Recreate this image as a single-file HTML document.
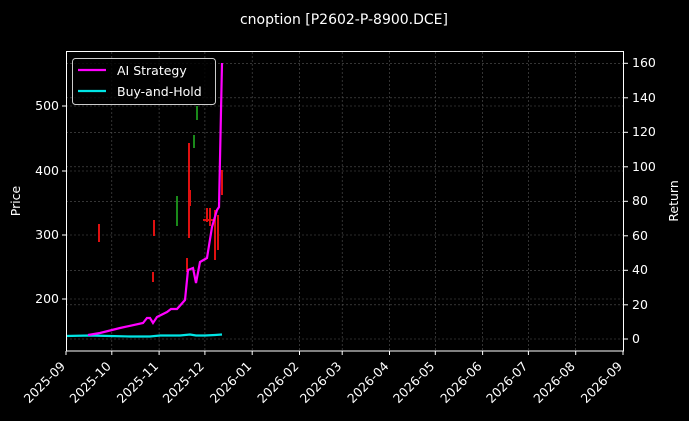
<!DOCTYPE html>
<html><head><meta charset="utf-8"><style>
html,body{margin:0;padding:0;background:#000;}
svg{display:block;font-family:"DejaVu Sans","Liberation Sans",sans-serif;}
</style></head><body>
<svg width="689" height="421" viewBox="0 0 689 421" xmlns="http://www.w3.org/2000/svg">
<rect width="689" height="421" fill="#000"/>
<text x="344" y="24" fill="#fff" font-size="14" text-anchor="middle">cnoption [P2602-P-8900.DCE]</text>
<g stroke="#555" stroke-width="0.6" stroke-dasharray="2,2">
<line x1="111.8" y1="52" x2="111.8" y2="351"/><line x1="159.1" y1="52" x2="159.1" y2="351"/><line x1="204.9" y1="52" x2="204.9" y2="351"/><line x1="252.2" y1="52" x2="252.2" y2="351"/><line x1="299.5" y1="52" x2="299.5" y2="351"/><line x1="342.2" y1="52" x2="342.2" y2="351"/><line x1="389.5" y1="52" x2="389.5" y2="351"/><line x1="435.3" y1="52" x2="435.3" y2="351"/><line x1="482.6" y1="52" x2="482.6" y2="351"/><line x1="528.4" y1="52" x2="528.4" y2="351"/><line x1="575.7" y1="52" x2="575.7" y2="351"/>
<line x1="66" y1="299" x2="624" y2="299"/><line x1="66" y1="235" x2="624" y2="235"/><line x1="66" y1="171" x2="624" y2="171"/><line x1="66" y1="106" x2="624" y2="106"/>
<line x1="66" y1="339" x2="624" y2="339"/><line x1="66" y1="304.8" x2="624" y2="304.8"/><line x1="66" y1="270.3" x2="624" y2="270.3"/><line x1="66" y1="201.3" x2="624" y2="201.3"/><line x1="66" y1="166.8" x2="624" y2="166.8"/><line x1="66" y1="132.3" x2="624" y2="132.3"/><line x1="66" y1="97.8" x2="624" y2="97.8"/><line x1="66" y1="63.3" x2="624" y2="63.3"/>
</g>
<g stroke-width="2">
<line x1="99" y1="224" x2="99" y2="242" stroke="#e01010"/>
<line x1="154" y1="220" x2="154" y2="236" stroke="#e01010"/>
<line x1="153" y1="272" x2="153" y2="282" stroke="#e01010"/>
<line x1="177" y1="196" x2="177" y2="226" stroke="#1a8a1a"/>
<line x1="187" y1="258" x2="187" y2="272" stroke="#e01010"/>
<line x1="189" y1="143" x2="189" y2="238" stroke="#e01010"/>
<line x1="190" y1="190" x2="190" y2="206" stroke="#e01010"/>
<line x1="194" y1="135" x2="194" y2="148" stroke="#1a8a1a"/>
<line x1="197" y1="106" x2="197" y2="120" stroke="#1a8a1a"/>
<line x1="207" y1="208" x2="207" y2="222" stroke="#e01010"/>
<line x1="210" y1="208" x2="210" y2="226" stroke="#e01010"/>
<line x1="215" y1="210" x2="215" y2="260" stroke="#e01010"/>
<line x1="218" y1="215" x2="218" y2="250" stroke="#e01010"/>
<line x1="222" y1="170" x2="222" y2="195" stroke="#e01010"/>
<line x1="203" y1="220" x2="215" y2="220" stroke="#e01010"/>
</g>
<polyline fill="none" stroke="#00e5e5" stroke-width="2.2" points="66,336 90,335.5 110,336 130,336.5 150,336.5 160,335.5 180,335.5 190,334.5 196,335.5 205,335.5 215,335 222,334.5"/>
<polyline fill="none" stroke="#ff00ff" stroke-width="2.2" points="88,335 100,333 120,328 143,323 147,318 150,318 153,323 157,317 167,312 171,309 177,309 185,300 188,270 193,268 196,283 200,262 207,258 212,227 217,210 219,207 222,63"/>
<rect x="66.5" y="51.5" width="557" height="299.5" fill="none" stroke="#fff" stroke-width="1"/>
<g stroke="#fff" stroke-width="1">
<line x1="62" y1="299" x2="66" y2="299"/><line x1="62" y1="235" x2="66" y2="235"/><line x1="62" y1="171" x2="66" y2="171"/><line x1="62" y1="106" x2="66" y2="106"/>
<line x1="624" y1="339" x2="628" y2="339"/><line x1="624" y1="304.8" x2="628" y2="304.8"/><line x1="624" y1="270.3" x2="628" y2="270.3"/><line x1="624" y1="235.8" x2="628" y2="235.8"/><line x1="624" y1="201.3" x2="628" y2="201.3"/><line x1="624" y1="166.8" x2="628" y2="166.8"/><line x1="624" y1="132.3" x2="628" y2="132.3"/><line x1="624" y1="97.8" x2="628" y2="97.8"/><line x1="624" y1="63.3" x2="628" y2="63.3"/>
<line x1="66" y1="351" x2="66" y2="355"/><line x1="111.8" y1="351" x2="111.8" y2="355"/><line x1="159.1" y1="351" x2="159.1" y2="355"/><line x1="204.9" y1="351" x2="204.9" y2="355"/><line x1="252.2" y1="351" x2="252.2" y2="355"/><line x1="299.5" y1="351" x2="299.5" y2="355"/><line x1="342.2" y1="351" x2="342.2" y2="355"/><line x1="389.5" y1="351" x2="389.5" y2="355"/><line x1="435.3" y1="351" x2="435.3" y2="355"/><line x1="482.6" y1="351" x2="482.6" y2="355"/><line x1="528.4" y1="351" x2="528.4" y2="355"/><line x1="575.7" y1="351" x2="575.7" y2="355"/><line x1="623" y1="351" x2="623" y2="355"/>
</g>
<g fill="#fff" font-size="12.5" text-anchor="end">
<text x="59" y="303">200</text><text x="59" y="239">300</text><text x="59" y="175">400</text><text x="59" y="110">500</text>
</g>
<g fill="#fff" font-size="12.5" text-anchor="start">
<text x="632" y="343">0</text><text x="632" y="309">20</text><text x="632" y="274">40</text><text x="632" y="240">60</text><text x="632" y="205">80</text><text x="632" y="171">100</text><text x="632" y="136">120</text><text x="632" y="102">140</text><text x="632" y="67">160</text>
</g>
<text transform="translate(20,201) rotate(-90)" fill="#fff" font-size="12.5" text-anchor="middle">Price</text>
<text transform="translate(678,201) rotate(-90)" fill="#fff" font-size="12.5" text-anchor="middle">Return</text>
<g fill="#fff" font-size="12.5" text-anchor="end">
<text transform="translate(66,367) rotate(-45)">2025-09</text>
<text transform="translate(111.8,367) rotate(-45)">2025-10</text>
<text transform="translate(159.1,367) rotate(-45)">2025-11</text>
<text transform="translate(204.9,367) rotate(-45)">2025-12</text>
<text transform="translate(252.2,367) rotate(-45)">2026-01</text>
<text transform="translate(299.5,367) rotate(-45)">2026-02</text>
<text transform="translate(342.2,367) rotate(-45)">2026-03</text>
<text transform="translate(389.5,367) rotate(-45)">2026-04</text>
<text transform="translate(435.3,367) rotate(-45)">2026-05</text>
<text transform="translate(482.6,367) rotate(-45)">2026-06</text>
<text transform="translate(528.4,367) rotate(-45)">2026-07</text>
<text transform="translate(575.7,367) rotate(-45)">2026-08</text>
<text transform="translate(623,367) rotate(-45)">2026-09</text>
</g>
<rect x="72.5" y="58.5" width="143" height="46" rx="3" fill="#000" fill-opacity="0.8" stroke="#ccc" stroke-width="1"/>
<line x1="78" y1="70" x2="106" y2="70" stroke="#ff00ff" stroke-width="2.2"/>
<line x1="78" y1="91" x2="106" y2="91" stroke="#00e5e5" stroke-width="2.2"/>
<text x="117" y="75" fill="#fff" font-size="12.5">AI Strategy</text>
<text x="117" y="96" fill="#fff" font-size="12.5">Buy-and-Hold</text>
</svg>
</body></html>
